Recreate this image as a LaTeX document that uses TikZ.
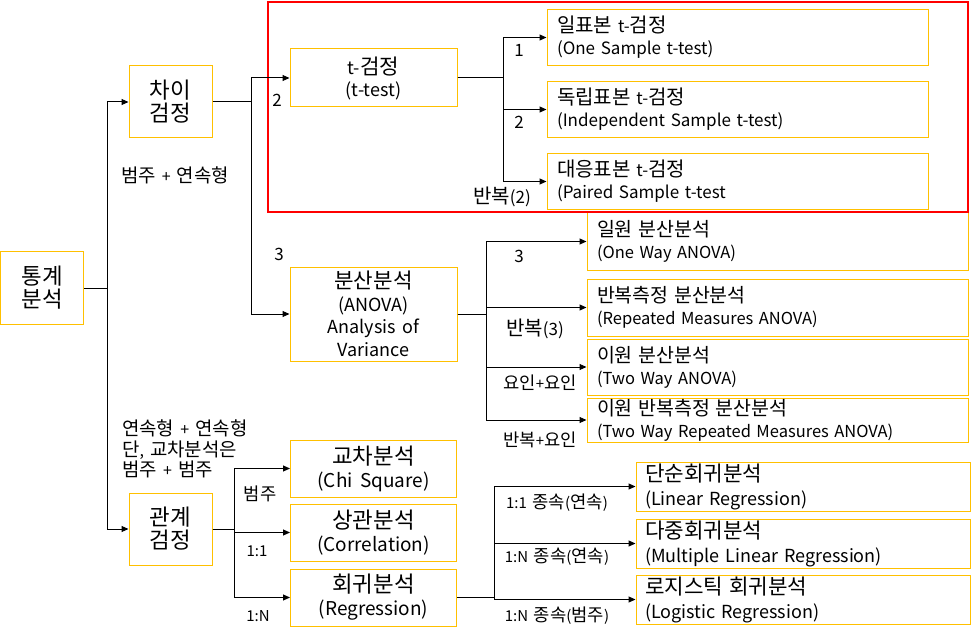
\documentclass[tikz,border=0pt]{standalone}
\usepackage{fontspec}
\setmainfont{Noto Sans CJK KR}[WordSpace=1.7]
\newfontfamily\krfont{Noto Sans CJK KR}[Scale=1.18, WordSpace=1.7]
\usepackage{xcolor}
\usetikzlibrary{arrows.meta, positioning}
\definecolor{boxgold}{HTML}{FFC000}
\definecolor{markred}{HTML}{FF0000}
% Hangul syllables set a little larger than the Latin text
\XeTeXinterchartokenstate=1
\newXeTeXintercharclass\hangulclass
\newcount\hcnt
\hcnt="AC00
\loop
  \XeTeXcharclass\hcnt=\hangulclass
  \advance\hcnt by 1
\ifnum\hcnt<"D7A4 \repeat
\XeTeXinterchartoks 0 \hangulclass = {\begingroup\krfont}
\XeTeXinterchartoks 4095 \hangulclass = {\begingroup\krfont}
\XeTeXinterchartoks \hangulclass 0 = {\endgroup}
\XeTeXinterchartoks \hangulclass 4095 = {\endgroup}

\begin{document}
\begin{tikzpicture}[
  x=1pt, y=-1pt,
  cbox/.style={draw=boxgold, line width=1pt, align=center, inner sep=2pt, font=\fontsize{19}{23}\selectfont},
  lbox/.style={draw=boxgold, line width=1pt, align=left, inner xsep=10pt, inner ysep=0pt, font=\fontsize{16}{22}\selectfont},
  link/.style={-{Triangle[length=7pt, width=6pt]}, line width=1pt, black},
  lab/.style={inner sep=0pt, font=\fontsize{15}{20}\selectfont},
  biglab/.style={inner sep=0pt, font=\fontsize{17}{20}\selectfont}
]
  \useasboundingbox (0,0) rectangle (971,636);

  % Left column
  \node[cbox, minimum width=83pt, minimum height=72pt] (stat) at (42,288) {통계\\분석};
  \node[cbox, minimum width=83pt, minimum height=72pt] (diff) at (170.5,102) {차이\\검정};
  \node[cbox, minimum width=83pt, minimum height=72pt] (rel) at (170.5,529) {관계\\검정};

  % Middle column
  \node[cbox, minimum width=167pt, minimum height=58pt, font=\fontsize{18}{22}\selectfont] (ttest) at (373.5,78) {t-검정\\(t-test)};
  \node[cbox, minimum width=167pt, minimum height=94pt, font=\fontsize{18}{22.5}\selectfont] (anova) at (373.5,314) {분산분석\\(ANOVA)\\Analysis of\\Variance};
  \foreach \n/\y/\kr/\en in {chi/468.5/교차분석/(Chi Square), corr/532.5/상관분석/(Correlation), reg/597.5/회귀분석/(Regression)}
    \node[cbox, minimum width=166pt, minimum height=57pt] (\n) at (373.5,\y) {\kr\\\en};

  % Right column
  \foreach \n/\y/\kr/\en in {t1/37.5/일표본 t-검정/(One Sample t-test), t2/109.5/독립표본 t-검정/(Independent Sample t-test), t3/181.5/대응표본 t-검정/(Paired Sample t-test}
    \node[lbox, text width=361pt, minimum height=56pt, font=\fontsize{17}{22}\selectfont] (\n) at (737.5,\y) {\kr\\\en};
  \foreach \n/\y/\h/\kr/\en in {a1/241.5/57/일원 분산분석/(One Way ANOVA), a2/307.5/57/반복측정 분산분석/(Repeated Measures ANOVA), a3/367/56/이원 분산분석/(Two Way ANOVA), a4/420/44/이원 반복측정 분산분석/(Two Way Repeated Measures ANOVA)}
    \node[lbox, text width=361pt, minimum height=\h pt, font=\fontsize{16.5}{22}\selectfont] (\n) at (777.5,\y) {\kr\\\en};
  \foreach \n/\y/\kr/\en in {r1/486.5/단순회귀분석/(Linear Regression), r2/543.5/다중회귀분석/(Multiple Linear Regression), r3/599.5/로지스틱 회귀분석/(Logistic Regression)}
    \node[lbox, text width=316pt, inner xsep=9pt, minimum height=49pt, font=\fontsize{18}{24}\selectfont] (\n) at (803,\y) {\kr\\\en};

  % Highlight round the t-test group
  \node[draw=markred, line width=2.5pt, minimum width=700pt, minimum height=210pt, inner sep=0pt] (tframe) at (618,107) {};

  % Elbow connectors
  \foreach \c in {diff, rel}
    \draw[link] (stat.east) -- ++(23,0) |- (\c.west);
  \foreach \c in {ttest, anova}
    \draw[link] (diff.east) -- ++(39,0) |- (\c.west);
  \foreach \c in {t1, t2, t3}
    \draw[link] (ttest.east) -- ++(46,0) |- (\c.west);
  \foreach \c in {a1, a2, a3, a4}
    \draw[link] (anova.east) -- ++(29,0) |- (\c.west);
  \foreach \c in {chi, corr, reg}
    \draw[link] (rel.east) -- ++(22,0) |- (\c.west);
  \foreach \c in {r1, r2, r3}
    \draw[link] (reg.east) -- ++(37,0) |- (\c.west);

  % Branch labels
  \foreach \n/\x/\y/\t in {lt/277/100/2, la/279/254/3, lt1/519/50/1, lt2/519/122/2, lt3/502/197/반복(2), la1/519/256/3, la2/535/329/반복(3)}
    \node[biglab] (\n) at (\x,\y) {\t};
  \foreach \n/\x/\y/\t in {la3/540/383/요인+요인, la4/540/440/반복+요인, lchi/260/494/범주, lcorr/257/551/1:1, lreg/258/616/1:N, lr1/557/503/1:1 종속(연속), lr2/557/557/1:N 종속(연속), lr3/557/616/1:N 종속(범주)}
    \node[lab] (\n) at (\x,\y) {\t};
  \node[lab, font=\fontsize{16}{20.5}\selectfont] (ldiff) at (175,175) {범주 + 연속형};
  \node[lab, font=\fontsize{16}{20.5}\selectfont, align=left, anchor=north west] (lrel) at (122,420) {연속형 + 연속형\\단, 교차분석은\\범주 + 범주};
\end{tikzpicture}
\end{document}
